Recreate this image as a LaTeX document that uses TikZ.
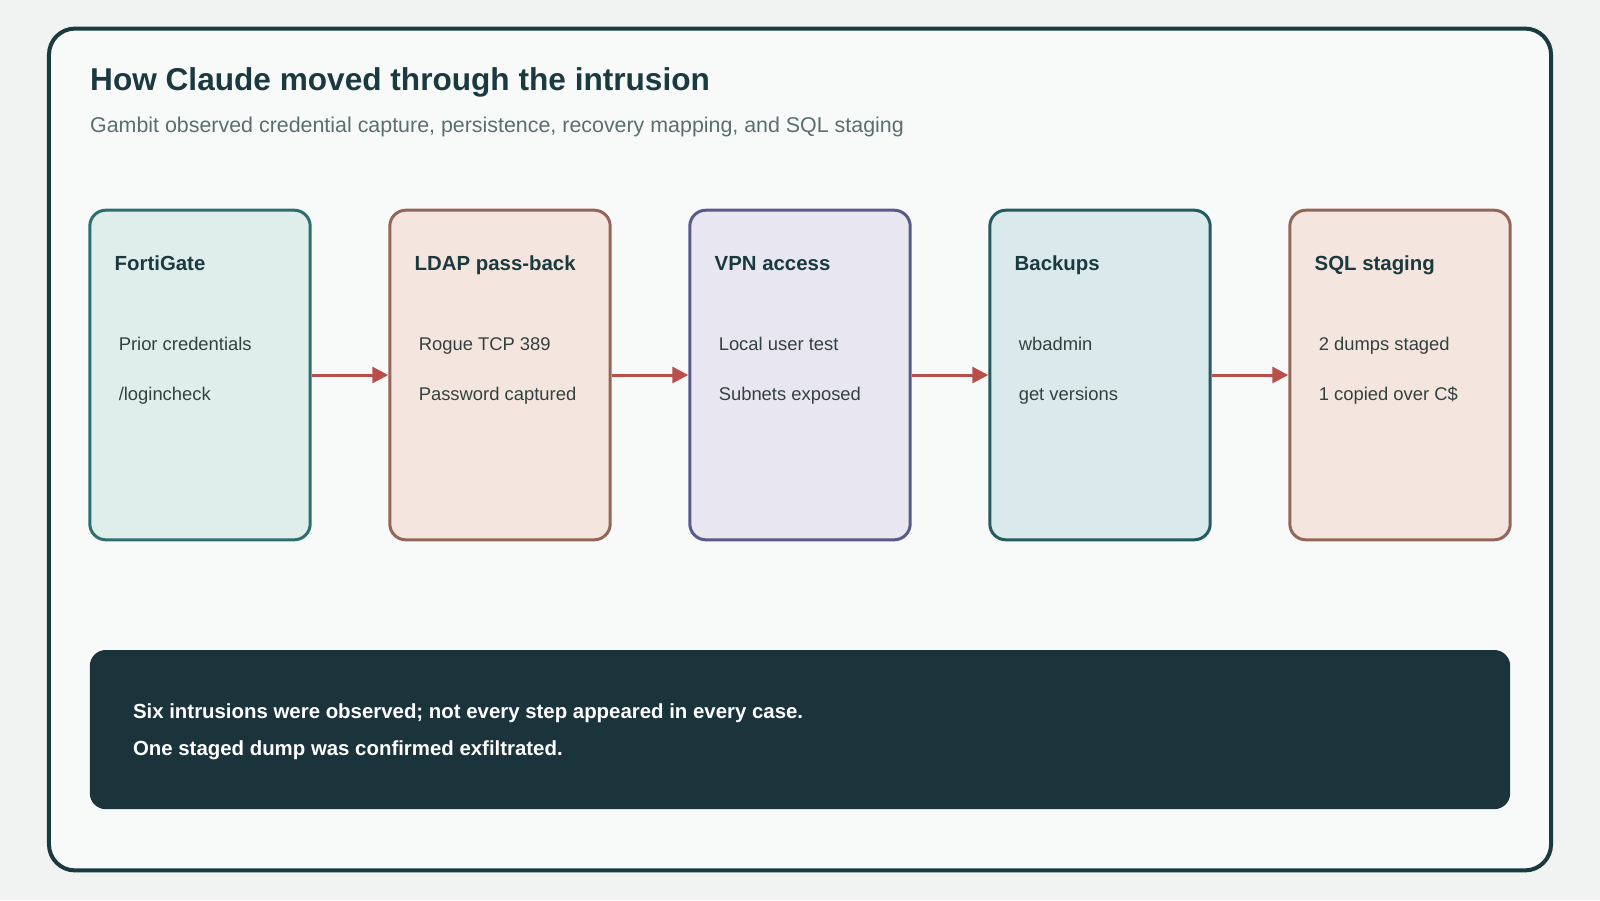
\documentclass[tikz,border=0pt]{standalone}
\usepackage{fontspec}
\setmainfont{Liberation Sans}
\usetikzlibrary{positioning,arrows.meta,backgrounds}
\definecolor{pagebg}{HTML}{F0F3F2}
\definecolor{cardbg}{HTML}{F8FAF9}
\definecolor{ink}{HTML}{1B3A40}
\definecolor{subink}{HTML}{5A6E70}
\definecolor{bodyink}{HTML}{33413F}
\definecolor{flow}{HTML}{B84F4A}
\definecolor{tealfill}{HTML}{DFEEEA}\definecolor{tealline}{HTML}{2F6E6E}
\definecolor{clayfill}{HTML}{F4E6DE}\definecolor{clayline}{HTML}{94665A}
\definecolor{slatefill}{HTML}{E8E6F0}\definecolor{slateline}{HTML}{5A5A8A}
\definecolor{bluefill}{HTML}{DAE9EC}\definecolor{blueline}{HTML}{245A62}
\definecolor{panel}{HTML}{1B343C}
\tikzset{
  stage/.style={draw=#1line, fill=#1fill, line width=1.5pt, rounded corners=8pt,
    minimum width=110.2pt, minimum height=164.8pt, inner sep=0pt},
  stagehead/.style={anchor=base west, font=\fontsize{10.2}{12}\selectfont\bfseries, text=ink, inner sep=0pt},
  stageline/.style={anchor=base west, font=\fontsize{9.2}{11}\selectfont, text=bodyink, inner sep=0pt},
  flowarrow/.style={draw=flow, line width=1.5pt, -{Triangle[length=8pt,width=8pt]}},
  note/.style={anchor=base west, font=\fontsize{10.2}{12}\selectfont\bfseries, text=white, inner sep=0pt}
}
\begin{document}
\begin{tikzpicture}[x=0.5102pt,y=-0.5102pt]
\useasboundingbox (0,0) rectangle (1568,882);
\fill[pagebg] (0,0) rectangle (1568,882);
\draw[ink, fill=cardbg, line width=2pt, rounded corners=13pt] (48,28) rectangle (1520,853);
% heading
\node[anchor=base west, inner sep=0pt, font=\fontsize{15.8}{18}\selectfont\bfseries, text=ink] (title) at (88,89) {How Claude moved through the intrusion};
\node[anchor=base west, inner sep=0pt, font=\fontsize{10.7}{13}\selectfont, text=subink] (subtitle) at (88,130) {Gambit observed credential capture, persistence, recovery mapping, and SQL staging};
% stages
\node[stage=teal] (fortigate) at (196,367.5) {};
\node[stage=clay] (ldap) at (490,367.5) {};
\node[stage=slate] (vpn) at (784,367.5) {};
\node[stage=blue] (backups) at (1078,367.5) {};
\node[stage=clay] (sql) at (1372,367.5) {};
\node[stagehead] at (112,265) {FortiGate};
\node[stageline] at (116,343) {Prior credentials};
\node[stageline] at (116,392) {/logincheck};
\node[stagehead] at (406,265) {LDAP pass-back};
\node[stageline] at (410,343) {Rogue TCP 389};
\node[stageline] at (410,392) {Password captured};
\node[stagehead] at (700,265) {VPN access};
\node[stageline] at (704,343) {Local user test};
\node[stageline] at (704,392) {Subnets exposed};
\node[stagehead] at (994,265) {Backups};
\node[stageline] at (998,343) {wbadmin};
\node[stageline] at (998,392) {get versions};
\node[stagehead] at (1288,265) {SQL staging};
\node[stageline] at (1292,343) {2 dumps staged};
\node[stageline] at (1292,392) {1 copied over C\$};
% flow
\draw[flowarrow] (fortigate.east) -- (ldap.west);
\draw[flowarrow] (ldap.east) -- (vpn.west);
\draw[flowarrow] (vpn.east) -- (backups.west);
\draw[flowarrow] (backups.east) -- (sql.west);
% summary
\fill[panel, rounded corners=8pt] (88,637) rectangle (1480,793);
\node[note] (note1) at (130,704) {Six intrusions were observed; not every step appeared in every case.};
\node[note] (note2) at (130,740) {One staged dump was confirmed exfiltrated.};
\end{tikzpicture}
\end{document}
